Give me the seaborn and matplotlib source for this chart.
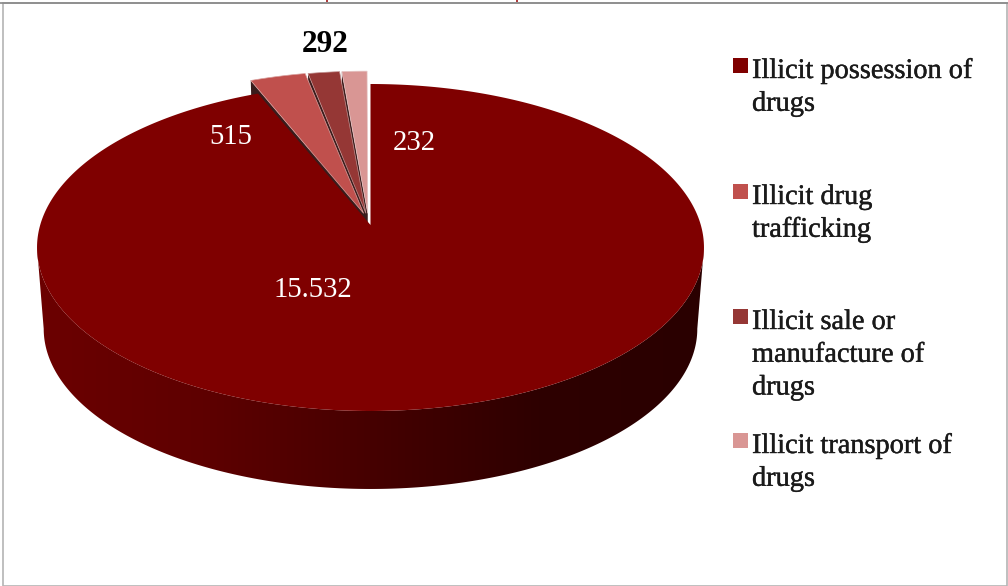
import numpy as np
import matplotlib
matplotlib.use("Agg")
import matplotlib.pyplot as plt
import matplotlib.patheffects as pe
from matplotlib.colors import to_rgb
from matplotlib.patches import Polygon, Rectangle
import seaborn as sns

# Drug offence counts by category
categories = [
    "Illicit possession of\ndrugs",
    "Illicit drug\ntrafficking",
    "Illicit sale or\nmanufacture of\ndrugs",
    "Illicit transport of\ndrugs",
]
counts = [15532, 515, 292, 232]
slice_colors = ["#7F0000", "#C0504D", "#953735", "#D99694"]
wall_shades = ["#6C0000", "#5E0000", "#460000", "#2E0000", "#2A0000"]
# Sideways and backwards pull of each detached slice, in disc units
pull_x = [0.0, -0.030, -0.020, -0.012]
pull_y = [0.0, 0.105, 0.105, 0.105]
TIP_PULL = 0.7

sns.set_theme(style="white")
plt.rcParams["font.family"] = ["Liberation Serif", "DejaVu Serif"]

W, H = 1008, 586
fig = plt.figure(figsize=(W / 100, H / 100), dpi=100)
ax = fig.add_axes([0, 0, 1, 1])
ax.set_xlim(0, W)
ax.set_ylim(H, 0)
ax.axis("off")

# Perspective camera for the tilted disc
CX, CY = 370.5, 225.0
RX, RY, K = 330.3, 160.4, 0.1376
DEPTH_DROP, DEPTH_SCALE = 81.7, 0.98


def project(u, v, lower=False):
    u, v = np.asarray(u, float), np.asarray(v, float)
    w = 1 + K * v
    s = DEPTH_SCALE if lower else 1.0
    dy = DEPTH_DROP if lower else 0.0
    return CX + s * RX * u / w, CY + dy - s * RY * v / w


fractions = np.array(counts) / np.sum(counts)
edges = np.r_[0, np.cumsum(fractions)] * 2 * np.pi

# Outer wall of the main slice: a horizontal gradient clipped to the rim,
# running between the two widest points of the perspective ellipse
widest = np.arccos(-K)
arc = np.linspace(widest, 2 * np.pi - widest, 400)
xt, yt = project(np.sin(arc), np.cos(arc))
xb, yb = project(np.sin(arc), np.cos(arc), True)
rim = Polygon(np.r_[np.c_[xt, yt], np.c_[xb, yb][::-1]], closed=True,
              fc="none", ec="none", transform=ax.transData)
ax.add_patch(rim)
shade = np.array([to_rgb(c) for c in sns.blend_palette(wall_shades, n_colors=256)])
gradient = ax.imshow(shade[np.newaxis, :, :], extent=(xt.min() - 2, xt.max() + 2, H, 0),
                     aspect="auto", zorder=2, interpolation="bilinear")
gradient.set_clip_path(rim)
ax.set_xlim(0, W)
ax.set_ylim(H, 0)

# Detached slices, right to left so each covers the wall of its neighbour
for idx in (3, 2, 1):
    a0, a1 = edges[idx], edges[idx + 1]
    ox, oy = pull_x[idx], pull_y[idx]
    tx, ty = ox * TIP_PULL, oy * TIP_PULL
    t = np.linspace(a0, a1, 120)
    x, y = project(np.r_[tx, ox + np.sin(t)], np.r_[ty, oy + np.cos(t)])
    wx0, wy0 = project(tx, ty)
    wx1, wy1 = project(ox + np.sin(a0), oy + np.cos(a0))
    wx2, wy2 = project(ox + np.sin(a0), oy + np.cos(a0), True)
    wx3, wy3 = project(tx, ty, True)
    ax.add_patch(Polygon([(wx0, wy0), (wx1, wy1), (wx2, wy2), (wx3, wy3)], closed=True,
                         fc="#3A1C1C", ec="none", zorder=1))
    ax.add_patch(Polygon(np.c_[x, y], closed=True, fc=slice_colors[idx],
                         ec=sns.light_palette(slice_colors[idx], 3)[1], lw=0.5, zorder=1))

# Top face of the main slice
t = np.linspace(edges[0], edges[1], 500)
x, y = project(np.r_[0.0, np.sin(t)], np.r_[0.0, np.cos(t)])
ax.add_patch(Polygon(np.c_[x, y], closed=True, fc=slice_colors[0], ec="none", zorder=3))


def fmt(n):
    return f"{n:,}".replace(",", ".")


# Value labels
label_style = [
    (313, 290, "white", "normal", 20.7),
    (231, 137, "white", "normal", 20.7),
    (325, 45, "black", "bold", 22.5),
    (414, 143, "white", "normal", 20.7),
]
for n, (lx, ly, col, weight, size) in zip(counts, label_style):
    ax.text(lx, ly, fmt(n), color=col, fontweight=weight, fontsize=size,
            ha="center", va="center", zorder=5)

# Legend
legend_rows = [58, 184, 309, 433]
for name, col, top in zip(categories, slice_colors, legend_rows):
    ax.add_patch(Rectangle((733, top), 14.5, 14.5, fc=col, ec="none", zorder=5))
    ax.text(752, top + 1, name, color="#1A1A1A", fontsize=20.4, ha="left", va="top",
            linespacing=1.41, zorder=5,
            path_effects=[pe.withStroke(linewidth=0.3, foreground="#1A1A1A")])

# Chart frame, with a heavier top rule
ax.add_patch(Rectangle((3, 2.5), 1003.5, 583, fc="none", ec="#B4B4B4", lw=1.2, zorder=6))
ax.plot([0, W], [2.5, 2.5], color="#888888", lw=1.2, zorder=7)
for tick_x in (327, 517):
    ax.plot([tick_x, tick_x], [0, 2], color="#A01515", lw=1.2, zorder=8, solid_capstyle="butt")

fig.savefig("out.png", dpi=100, facecolor="white")
